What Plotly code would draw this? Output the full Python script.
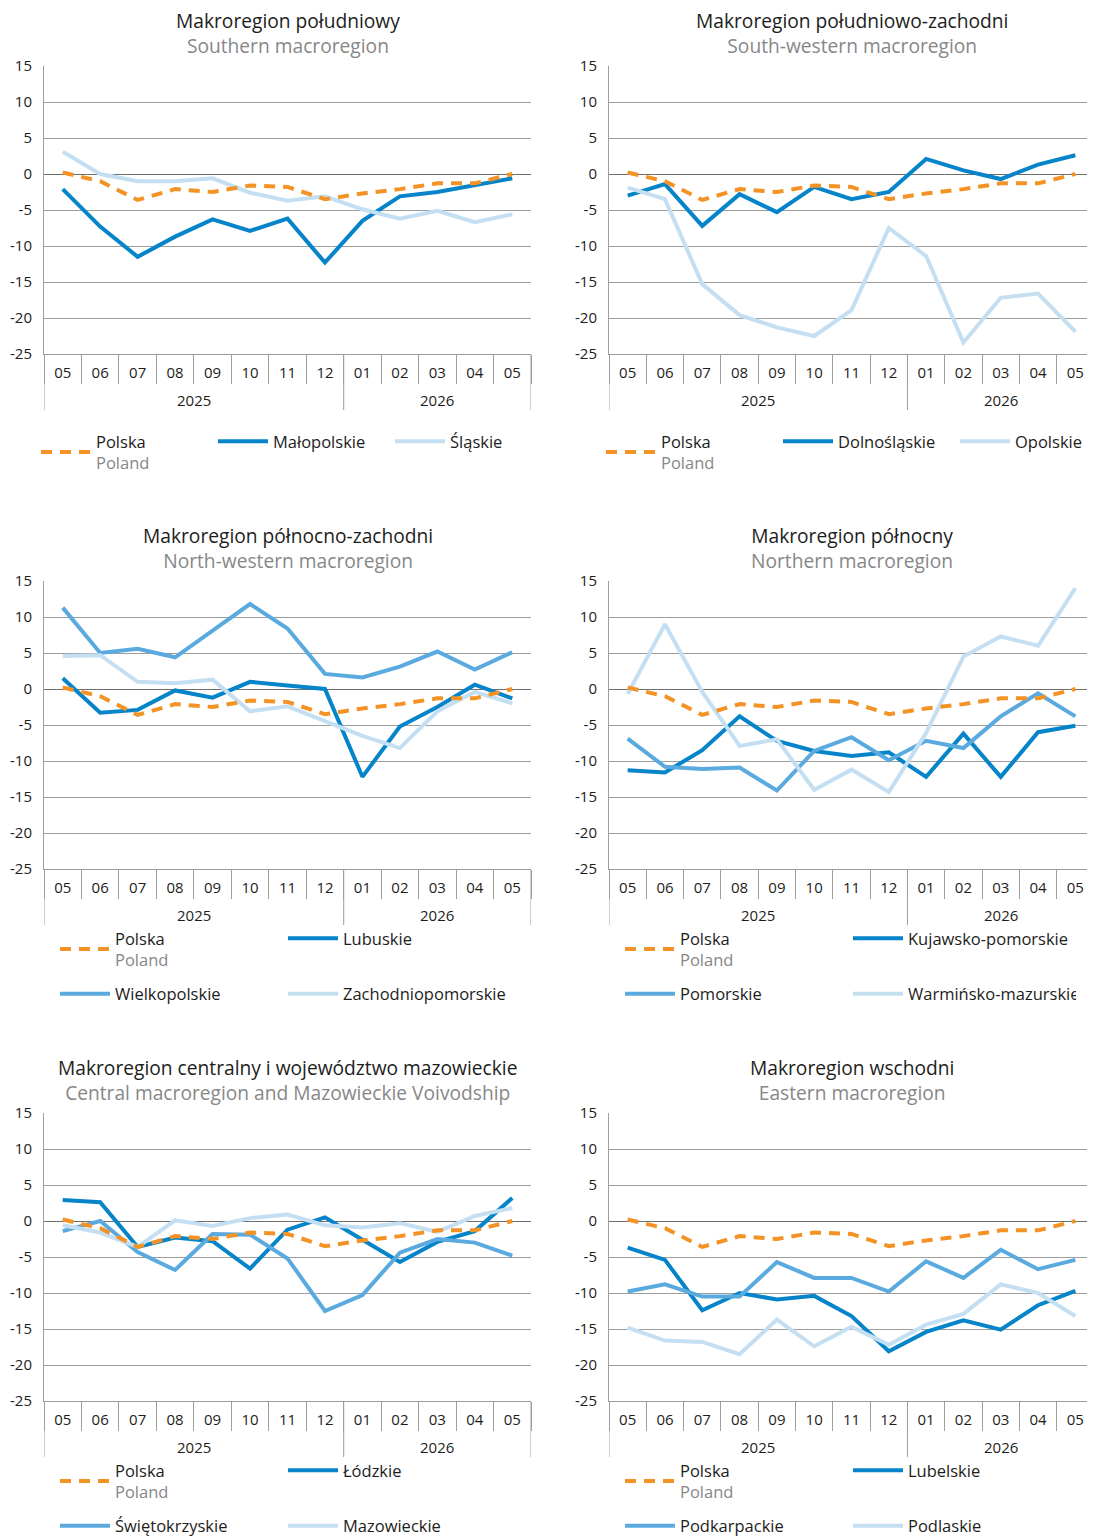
import plotly.graph_objects as go

# ---------------- data ----------------
periods = ["2025-05", "2025-06", "2025-07", "2025-08", "2025-09", "2025-10", "2025-11", "2025-12",
           "2026-01", "2026-02", "2026-03", "2026-04", "2026-05"]
months = ["05", "06", "07", "08", "09", "10", "11", "12", "01", "02", "03", "04", "05"]
years = ["2025"] * 8 + ["2026"] * 5

polska = [0.2, -1.0, -3.6, -2.1, -2.5, -1.6, -1.8, -3.5, -2.7, -2.1, -1.3, -1.3, 0.0]

malopolskie = [-2.1, -7.3, -11.5, -8.7, -6.3, -7.9, -6.2, -12.3, -6.5, -3.1, -2.5, -1.5, -0.6]
slaskie = [3.1, 0.0, -1.0, -1.0, -0.6, -2.6, -3.7, -3.1, -4.9, -6.2, -5.1, -6.7, -5.6]

dolnoslaskie = [-3.0, -1.4, -7.2, -2.8, -5.3, -1.8, -3.5, -2.5, 2.1, 0.5, -0.7, 1.3, 2.6]
opolskie = [-1.9, -3.5, -15.3, -19.6, -21.3, -22.5, -18.9, -7.5, -11.4, -23.4, -17.2, -16.6, -21.9]

lubuskie = [1.5, -3.3, -2.9, -0.2, -1.2, 1.0, 0.5, 0.0, -12.2, -5.2, -2.5, 0.6, -1.3]
wielkopolskie = [11.3, 5.0, 5.6, 4.4, 8.1, 11.8, 8.4, 2.1, 1.6, 3.1, 5.2, 2.7, 5.1]
zachodniopomorskie = [4.6, 4.7, 1.0, 0.8, 1.3, -3.1, -2.4, -4.5, -6.5, -8.2, -3.1, -0.4, -2.0]

kujawsko_pomorskie = [-11.3, -11.6, -8.5, -3.8, -7.2, -8.6, -9.3, -8.8, -12.2, -6.2, -12.2, -6.0, -5.1]
pomorskie = [-6.9, -10.8, -11.1, -10.9, -14.1, -8.6, -6.7, -9.9, -7.2, -8.2, -3.8, -0.6, -3.8]
warminsko_mazurskie = [-0.7, 9.0, -0.4, -7.9, -7.0, -14.0, -11.2, -14.3, -6.1, 4.5, 7.3, 6.0, 14.0]

lodzkie = [2.9, 2.6, -3.6, -2.3, -2.8, -6.6, -1.2, 0.5, -2.6, -5.7, -2.9, -1.4, 3.2]
swietokrzyskie = [-1.4, 0.0, -4.3, -6.8, -1.8, -1.9, -5.2, -12.5, -10.3, -4.4, -2.5, -3.0, -4.8]
mazowieckie = [-0.6, -1.6, -3.6, 0.1, -0.7, 0.4, 0.9, -0.6, -0.9, -0.3, -1.5, 0.7, 1.8]

lubelskie = [-3.7, -5.4, -12.4, -10.0, -10.9, -10.4, -13.2, -18.1, -15.4, -13.8, -15.1, -11.7, -9.7]
podkarpackie = [-9.8, -8.8, -10.5, -10.5, -5.7, -7.9, -7.9, -9.8, -5.6, -7.9, -4.0, -6.7, -5.4]
podlaskie = [-14.8, -16.6, -16.8, -18.5, -13.7, -17.4, -14.7, -17.2, -14.4, -12.9, -8.8, -10.0, -13.2]

y_tickvals = [-25, -20, -15, -10, -5, 0, 5, 10, 15]
y_ticktext = ["-25", "-20", "-15", "-10", "-5", "0", "5", "10", "15"]

# ---------------- styling ----------------
# The page body has an 8px default margin, so the figure is drawn 8px smaller and
# all screen positions are converted to figure positions.
OFF = 8
W, H = 1095 - OFF, 1537 - OFF
ORANGE = "#f39325"
DARK = "#0584c9"
MED = "#5aaadf"
LIGHT = "#c5dff2"
TXT = "#1d1d1b"
SUB = "#878787"
GRID = "#9d9d9c"
ZERO = "#6f6f6e"
FONT = "Open Sans"

def py(px):
    return 1 - (px - OFF) / H

def pxx(px):
    return (px - OFF) / W

# year groups derived from the category list (boundaries + label centres, in category units)
year_names = []
year_idx = {}
for idx, yv in enumerate(years):
    if yv not in year_idx:
        year_idx[yv] = []
        year_names.append(yv)
    year_idx[yv].append(idx)
year_bounds = sorted({year_idx[y][0] - 0.5 for y in year_names} | {year_idx[y][-1] + 0.5 for y in year_names})
year_centres = {y: (year_idx[y][0] + year_idx[y][-1]) / 2 for y in year_names}

panels = [
    dict(pl="Makroregion południowy", en="Southern macroregion", col=0, top=66,
         series=[("Małopolskie", malopolskie, DARK), ("Śląskie", slaskie, LIGHT)]),
    dict(pl="Makroregion południowo-zachodni", en="South-western macroregion", col=1, top=66,
         series=[("Dolnośląskie", dolnoslaskie, DARK), ("Opolskie", opolskie, LIGHT)]),
    dict(pl="Makroregion północno-zachodni", en="North-western macroregion", col=0, top=581,
         series=[("Lubuskie", lubuskie, DARK), ("Wielkopolskie", wielkopolskie, MED),
                 ("Zachodniopomorskie", zachodniopomorskie, LIGHT)]),
    dict(pl="Makroregion północny", en="Northern macroregion", col=1, top=581,
         series=[("Kujawsko-pomorskie", kujawsko_pomorskie, DARK), ("Pomorskie", pomorskie, MED),
                 ("Warmińsko-mazurskie", warminsko_mazurskie, LIGHT)]),
    dict(pl="Makroregion centralny i województwo mazowieckie",
         en="Central macroregion and Mazowieckie Voivodship", col=0, top=1113,
         series=[("Łódzkie", lodzkie, DARK), ("Świętokrzyskie", swietokrzyskie, MED),
                 ("Mazowieckie", mazowieckie, LIGHT)]),
    dict(pl="Makroregion wschodni", en="Eastern macroregion", col=1, top=1113,
         series=[("Lubelskie", lubelskie, DARK), ("Podkarpackie", podkarpackie, MED),
                 ("Podlaskie", podlaskie, LIGHT)]),
]

col_x = [(44, 531), (609, 1094)]
PLOT_H = 288

fig = go.Figure()
layout = dict(
    width=W, height=H,
    margin=dict(l=0, r=0, t=0, b=0, autoexpand=False),
    paper_bgcolor="white", plot_bgcolor="white",
    font=dict(family=FONT, color=TXT, size=15),
    showlegend=True,
)
annotations = []
shapes = []
legend_count = 0

def legend_name(i):
    return "legend" if i == 1 else f"legend{i}"

def make_legend(x_px, y_px_center, entrywidth):
    return dict(
        orientation="h", x=pxx(x_px), xanchor="left",
        y=py(y_px_center), yanchor="middle",
        bgcolor="rgba(0,0,0,0)", borderwidth=0,
        font=dict(family=FONT, size=16.5, color=TXT),
        itemwidth=50, entrywidthmode="pixels", entrywidth=entrywidth,
        tracegroupgap=0, itemclick=False, itemdoubleclick=False,
    )

for i, p in enumerate(panels, start=1):
    xs = "" if i == 1 else str(i)
    x0, x1 = col_x[p["col"]]
    top = p["top"]
    bot = top + PLOT_H
    layout[f"xaxis{xs}"] = dict(
        domain=[pxx(x0), pxx(x1)], anchor=f"y{xs}", type="category",
        categoryorder="array", categoryarray=periods,
        range=[-0.5, len(periods) - 0.5],
        tickmode="array", tickvals=periods, ticktext=months,
        showgrid=False, showline=True, linecolor=GRID, linewidth=1,
        ticks="outside", tickson="boundaries", ticklen=29, tickcolor=GRID, tickwidth=1,
        ticklabelstandoff=5,
        tickfont=dict(family=FONT, size=15, color=TXT),
        fixedrange=True,
    )
    layout[f"yaxis{xs}"] = dict(
        domain=[py(bot), py(top)], anchor=f"x{xs}",
        range=[-25, 15], tickmode="array", tickvals=y_tickvals, ticktext=y_ticktext,
        showgrid=True, gridcolor=GRID, gridwidth=1,
        zeroline=True, zerolinecolor=ZERO, zerolinewidth=1.3,
        showline=True, linecolor=GRID, linewidth=1,
        ticks="", ticklabelstandoff=8,
        tickfont=dict(family=FONT, size=15, color=TXT),
        fixedrange=True,
    )
    # year dividers and year labels
    for b in year_bounds:
        shapes.append(dict(type="line", xref=f"x{xs}", yref="paper", x0=b, x1=b,
                           y0=py(bot), y1=py(bot + 56), line=dict(color=GRID, width=1)))
    for yname in year_names:
        annotations.append(dict(x=year_centres[yname], y=py(bot + 46), xref=f"x{xs}", yref="paper",
                                text=yname, showarrow=False, xanchor="center", yanchor="middle",
                                font=dict(family=FONT, size=15, color=TXT)))

    # two-line panel title (Polish + English in grey)
    cx = (x0 + x1) / 2
    annotations.append(dict(x=pxx(cx), y=py(top - 33), xref="paper", yref="paper",
                            text=f"{p['pl']}<br><span style='color:{SUB}'>{p['en']}</span>",
                            showarrow=False, xanchor="center", yanchor="middle", align="center",
                            borderpad=0, font=dict(family=FONT, size=19.2, color=TXT)))

    # legends
    if i <= 2:
        legend_count += 1
        lg = legend_name(legend_count)
        layout[lg] = make_legend(x0 - 8, top + 386, 112)
        names_legends = [lg] * (1 + len(p["series"]))
    else:
        legend_count += 1
        lgA = legend_name(legend_count)
        legend_count += 1
        lgB = legend_name(legend_count)
        layout[lgA] = make_legend(x0 + 11, top + 368, 163)
        layout[lgB] = make_legend(x0 + 11, top + 413, 163)
        names_legends = [lgA, lgA, lgB, lgB]

    # region series first, Polska drawn on top
    for k, (name, vals, color) in enumerate(p["series"], start=1):
        fig.add_trace(go.Scatter(
            x=periods, y=vals, mode="lines", name=name,
            line=dict(color=color, width=4), xaxis=f"x{xs}", yaxis=f"y{xs}",
            legend=names_legends[k], legendrank=k + 1, hoverinfo="skip",
        ))
    fig.add_trace(go.Scatter(
        x=periods, y=polska, mode="lines",
        name=f"Polska<br><span style='color:{SUB}'>Poland</span>",
        line=dict(color=ORANGE, width=4, dash="11px,8px"),
        xaxis=f"x{xs}", yaxis=f"y{xs}",
        legend=names_legends[0], legendrank=1, hoverinfo="skip",
    ))

layout["annotations"] = annotations
layout["shapes"] = shapes
fig.update_layout(**layout)
fig.write_html("out.html")
